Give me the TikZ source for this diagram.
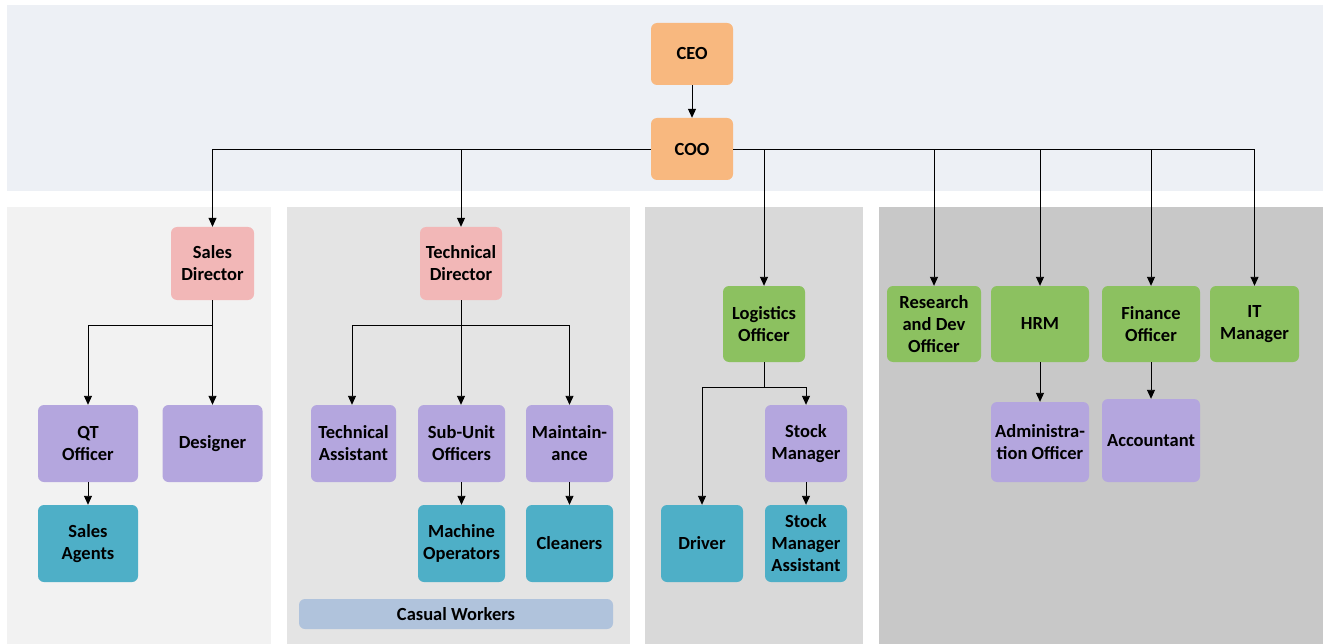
\documentclass[tikz,border=0pt]{standalone}
\usepackage{fontspec}
\setmainfont{Carlito}
\usetikzlibrary{arrows.meta}
\definecolor{bandtop}{HTML}{EDF0F5}
\definecolor{pone}{HTML}{F2F2F2}
\definecolor{ptwo}{HTML}{E4E4E4}
\definecolor{pthree}{HTML}{D9D9D9}
\definecolor{pfour}{HTML}{C8C8C8}
\definecolor{corange}{HTML}{F8B87F}
\definecolor{cpink}{HTML}{F2B7B7}
\definecolor{cgreen}{HTML}{8CC160}
\definecolor{cpurple}{HTML}{B4A6DE}
\definecolor{cteal}{HTML}{4EAFC7}
\definecolor{ccasual}{HTML}{B0C3DC}
\tikzset{
  box/.style={rounded corners=6pt, inner sep=1pt, align=center,
    font=\fontsize{18.5}{22}\selectfont\bfseries, text=black},
  link/.style={line width=0.9pt, draw=black},
  arr/.style={link, -{Triangle[length=9pt,width=8pt]}},
}
\begin{document}
\begin{tikzpicture}[x=1pt,y=-1pt]
\useasboundingbox (0,0) rectangle (1324,644);
\fill[white] (0,0) rectangle (1324,644);
% background bands
\fill[bandtop] (7,5) rectangle (1323,191);
\fill[pone] (7,207) rectangle (271,644);
\fill[ptwo] (287,207) rectangle (630,644);
\fill[pthree] (645,207) rectangle (863,644);
\fill[pfour] (879,207) rectangle (1323,644);

% top level
\node[box, fill=corange, minimum width=82, minimum height=62] (ceo) at (692,54) {CEO};
\node[box, fill=corange, minimum width=82, minimum height=62] (coo) at (692,149) {COO};

% directors and officers
\node[box, fill=cpink, minimum width=83, minimum height=73] (sd) at (212.5,263.5) {Sales\\Director};
\node[box, fill=cpink, minimum width=82, minimum height=73] (td) at (461,263.5) {Technical\\Director};
\node[box, fill=cgreen, minimum width=82, minimum height=76] (lo) at (764,324) {Logistics\\Officer};
\node[box, fill=cgreen, minimum width=94, minimum height=76] (rd) at (934,324) {Research\\and Dev\\Officer};
\node[box, fill=cgreen, minimum width=98, minimum height=76] (hrm) at (1040,324) {HRM};
\node[box, fill=cgreen, minimum width=98, minimum height=76] (fo) at (1151,324) {Finance\\Officer};
\node[box, fill=cgreen, minimum width=89, minimum height=76] (it) at (1254.5,324) {IT\\Manager};

% second level
\node[box, fill=cpurple, minimum width=100, minimum height=77] (qt) at (88,443.5) {QT\\Officer};
\node[box, fill=cpurple, minimum width=100, minimum height=77] (des) at (212.5,443.5) {Designer};
\node[box, fill=cpurple, minimum width=85, minimum height=77] (ta) at (353.5,443.5) {Technical\\Assistant};
\node[box, fill=cpurple, minimum width=87, minimum height=77] (su) at (461.5,443.5) {Sub-Unit\\Officers};
\node[box, fill=cpurple, minimum width=87, minimum height=77] (mt) at (569.5,443.5) {Maintain-\\ance};
\node[box, fill=cpurple, minimum width=82, minimum height=77] (sm) at (806,443.5) {Stock\\Manager};
\node[box, fill=cpurple, minimum width=98, minimum height=80] (adm) at (1040,442) {Administra-\\tion Officer};
\node[box, fill=cpurple, minimum width=98, minimum height=83] (acc) at (1151,440.5) {Accountant};

% third level
\node[box, fill=cteal, minimum width=100, minimum height=77] (sa) at (88,543.5) {Sales\\Agents};
\node[box, fill=cteal, minimum width=87, minimum height=77] (mo) at (461.5,543.5) {Machine\\Operators};
\node[box, fill=cteal, minimum width=87, minimum height=77] (cl) at (569.5,543.5) {Cleaners};
\node[box, fill=cteal, minimum width=82, minimum height=77] (dr) at (702,543.5) {Driver};
\node[box, fill=cteal, minimum width=82, minimum height=77] (sma) at (806,543.5) {Stock\\Manager\\Assistant};

\node[box, fill=ccasual, minimum width=314, minimum height=30] (cw) at (456,614) {Casual Workers};

% junction points
\coordinate (sj) at (212.5,325);
\coordinate (tj) at (461,325);
\coordinate (lj) at (764,387);

% connectors from the top
\draw[arr] (ceo) -- (coo);
\draw[arr] (coo.west) -| (sd.north);
\draw[arr] (coo.west) -| (td.north);
\draw[arr] (coo.east) -| (lo.north);
\draw[arr] (coo.east) -| (rd.north);
\draw[arr] (coo.east) -| (hrm.north);
\draw[arr] (coo.east) -| (fo.north);
\draw[arr] (coo.east) -| (it.north);

% sales branch
\draw[link] (sd.south) -- (sj);
\draw[arr] (sj) -| (qt.north);
\draw[arr] (sj) -- (des.north);
\draw[arr] (qt) -- (sa);

% technical branch
\draw[link] (td.south) -- (tj);
\draw[arr] (tj) -| ([xshift=-1.5pt]ta.north);
\draw[arr] (tj) -| (mt.north);
\draw[arr] (tj) -- (su.north -| tj);
\draw[arr] (su) -- (mo);
\draw[arr] (mt) -- (cl);

% logistics branch
\draw[link] (lo.south) -- (lj);
\draw[arr] (lj) -| (dr.north);
\draw[arr] (lj) -| (sm.north);
\draw[arr] (sm) -- (sma);

% staff functions
\draw[arr] (hrm) -- (adm);
\draw[arr] (fo) -- (acc);
\end{tikzpicture}
\end{document}
